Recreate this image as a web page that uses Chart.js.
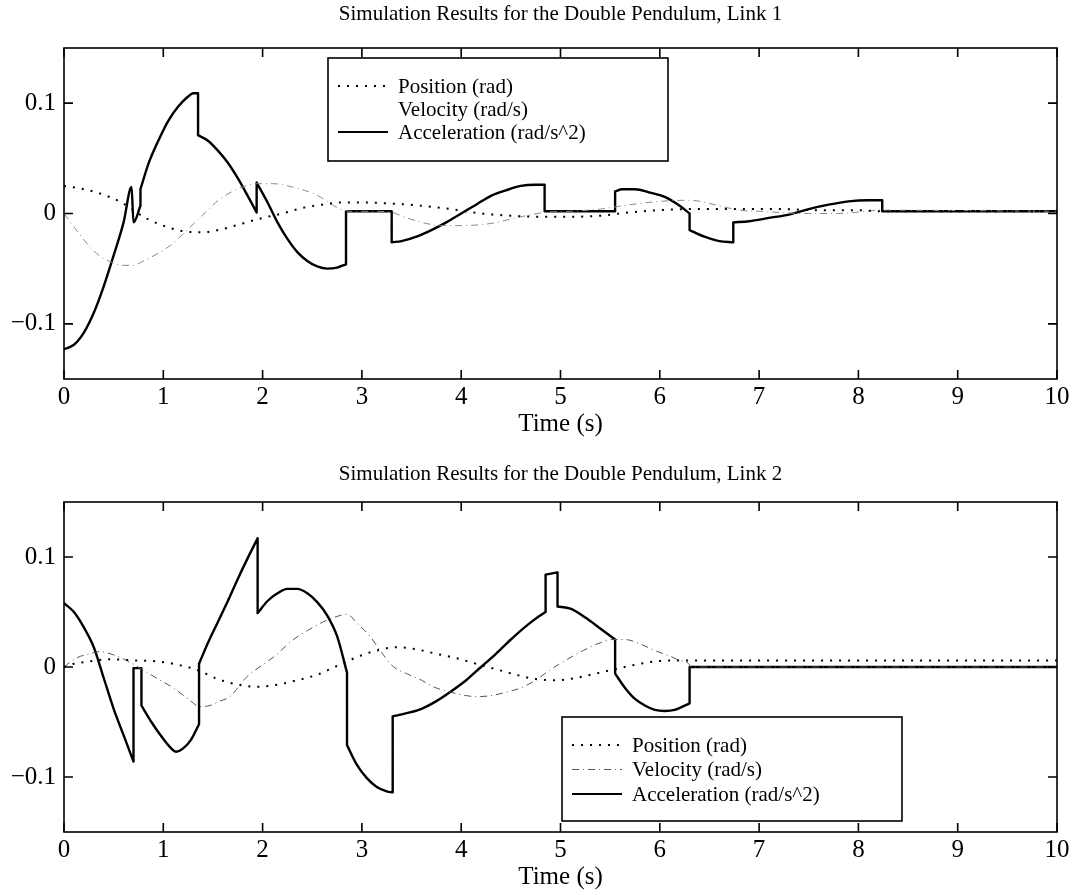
<!DOCTYPE html>
<html>
<head>
<meta charset="utf-8">
<title>Simulation Results for the Double Pendulum</title>
<script src="https://cdn.jsdelivr.net/npm/chart.js@4.4.1/dist/chart.umd.min.js"></script>
<style>
  html, body { margin: 0; padding: 0; background: #fff; }
  #wrap { position: relative; width: 1080px; height: 895px; }
  canvas { position: absolute; left: 0; }
</style>
</head>
<body>
<div id="wrap">
  <canvas id="link1" width="1080" height="448" style="top:0"></canvas>
  <canvas id="link2" width="1080" height="447" style="top:448px"></canvas>
</div>
<script>
// axis ticks
const xTickValues = [0, 1, 2, 3, 4, 5, 6, 7, 8, 9, 10];
const yTickValues = [-0.1, 0, 0.1];
const yTickLabels = ['\u22120.1', '0', '0.1'];
const seriesNames = ['Position (rad)', 'Velocity (rad/s)', 'Acceleration (rad/s^2)'];

// Link 1 - acceleration (a repeated time = a jump)
const link1AccT = [0, 0.1, 0.2, 0.3, 0.4, 0.5, 0.6, 0.68, 0.70, 0.77, 0.77, 0.85, 0.95, 1.05, 1.15, 1.25, 1.30, 1.35,
  1.35, 1.45, 1.55, 1.65, 1.75, 1.85, 1.94, 1.94, 2.05, 2.15, 2.25, 2.35, 2.45, 2.55, 2.65, 2.75, 2.84,
  2.84, 3.30, 3.30, 3.40, 3.55, 3.70, 3.85, 4.00, 4.15, 4.30, 4.45, 4.60, 4.75, 4.84,
  4.84, 5.55, 5.55, 5.62, 5.75, 5.90, 6.05, 6.20, 6.30, 6.30, 6.45, 6.60, 6.74,
  6.74, 6.90, 7.10, 7.30, 7.50, 7.70, 7.90, 8.10, 8.24, 8.24, 10];
const link1AccV = [-0.123, -0.119, -0.108, -0.090, -0.066, -0.038, -0.008, 0.024, -0.008, 0.007, 0.022, 0.045, 0.066, 0.084, 0.097, 0.106, 0.109, 0.109,
  0.071, 0.066, 0.057, 0.046, 0.032, 0.016, 0.001, 0.028, 0.010, -0.008, -0.023, -0.035, -0.043, -0.048, -0.050, -0.049, -0.046,
  0.002, 0.002, -0.026, -0.025, -0.021, -0.015, -0.008, 0.000, 0.008, 0.016, 0.021, 0.025, 0.026, 0.026,
  0.002, 0.002, 0.020, 0.022, 0.022, 0.019, 0.015, 0.007, 0.000, -0.015, -0.021, -0.025, -0.026,
  -0.008, -0.007, -0.004, -0.001, 0.004, 0.008, 0.011, 0.012, 0.012, 0.002, 0.002];

// Link 1 - position
const link1PosT = [0, 0.2, 0.4, 0.6, 0.8, 1.0, 1.2, 1.4, 1.6, 1.8, 2.0, 2.2, 2.4, 2.6, 2.8, 3.0, 3.3, 3.6, 3.9,
  4.2, 4.5, 4.8, 5.1, 5.4, 5.7, 6.0, 6.3, 6.6, 6.9, 7.2, 7.6, 8.0, 8.24, 10];
const link1PosV = [0.025, 0.022, 0.017, 0.009, -0.003, -0.011, -0.016, -0.017, -0.014, -0.009, -0.004, 0.000, 0.005, 0.008, 0.010, 0.010, 0.009, 0.007, 0.004,
  0.000, -0.002, -0.003, -0.003, -0.002, 0.001, 0.003, 0.004, 0.004, 0.004, 0.004, 0.003, 0.003, 0.002, 0.002];

// Link 1 - velocity
const link1VelT = [0, 0.15, 0.3, 0.45, 0.6, 0.7, 0.8, 0.95, 1.07, 1.24, 1.4, 1.57, 1.77, 1.95, 2.11, 2.3, 2.54, 2.78, 2.9, 3.1, 3.3,
  3.45, 3.6, 3.8, 4.0, 4.3, 4.6, 4.84, 5.1, 5.4, 5.7, 6.0, 6.3, 6.6, 6.8, 7.0, 7.5, 7.8, 8.24, 10];
const link1VelV = [0.000, -0.018, -0.034, -0.043, -0.047, -0.047, -0.043, -0.036, -0.029, -0.015, -0.001, 0.013, 0.023, 0.027, 0.027, 0.024, 0.017, 0.004, 0.002, 0.002, 0.001,
  -0.004, -0.008, -0.011, -0.011, -0.009, -0.003, 0.001, 0.002, 0.004, 0.008, 0.011, 0.012, 0.007, 0.003, 0.002, 0.000, 0.000, 0.003, 0.002];

// Link 2 - acceleration
const link2AccT = [0, 0.1, 0.2, 0.3, 0.4, 0.5, 0.6, 0.70, 0.70, 0.78, 0.78, 0.88, 0.98, 1.08, 1.13, 1.20, 1.28, 1.36,
  1.36, 1.45, 1.55, 1.65, 1.75, 1.85, 1.95, 1.95, 2.05, 2.15, 2.25, 2.35, 2.45, 2.55, 2.65, 2.75, 2.85,
  2.85, 2.95, 3.05, 3.15, 3.25, 3.31, 3.31, 3.45, 3.60, 3.75, 3.90, 4.05, 4.20, 4.35, 4.50, 4.65, 4.78, 4.85,
  4.85, 4.97, 4.97, 5.10, 5.25, 5.40, 5.55, 5.55, 5.65, 5.75, 5.85, 5.95, 6.05, 6.15, 6.30, 6.30, 10];
const link2AccV = [0.058, 0.050, 0.036, 0.018, -0.010, -0.038, -0.062, -0.086, -0.001, -0.001, -0.035, -0.050, -0.063, -0.074, -0.077, -0.074, -0.066, -0.052,
  0.003, 0.022, 0.041, 0.060, 0.080, 0.099, 0.117, 0.049, 0.060, 0.067, 0.071, 0.071, 0.067, 0.059, 0.047, 0.028, -0.005,
  -0.071, -0.089, -0.101, -0.109, -0.113, -0.114, -0.045, -0.042, -0.038, -0.031, -0.022, -0.012, 0.000, 0.012, 0.025, 0.037, 0.046, 0.050,
  0.084, 0.086, 0.055, 0.053, 0.045, 0.035, 0.025, -0.006, -0.019, -0.029, -0.035, -0.039, -0.040, -0.039, -0.033, 0.000, 0.000];

// Link 2 - position
const link2PosT = [0, 0.1, 0.25, 0.45, 0.7, 0.95, 1.15, 1.35, 1.55, 1.75, 1.95, 2.15, 2.35, 2.55, 2.75, 2.95, 3.15, 3.35,
  3.55, 3.75, 3.95, 4.15, 4.35, 4.55, 4.75, 4.95, 5.15, 5.35, 5.55, 5.75, 5.95, 6.15, 6.30, 10];
const link2PosV = [0.000, 0.003, 0.005, 0.007, 0.006, 0.005, 0.002, -0.003, -0.011, -0.016, -0.018, -0.016, -0.012, -0.007, 0.001, 0.009, 0.015, 0.018,
  0.016, 0.012, 0.008, 0.003, -0.002, -0.007, -0.011, -0.012, -0.010, -0.006, -0.002, 0.002, 0.005, 0.006, 0.006, 0.006];

// Link 2 - velocity
const link2VelT = [0, 0.12, 0.26, 0.36, 0.5, 0.63, 0.8, 0.95, 1.10, 1.25, 1.37, 1.47, 1.57, 1.67, 1.84, 2.0, 2.11, 2.31, 2.45, 2.61, 2.75, 2.85,
  2.95, 3.08, 3.2, 3.32, 3.45, 3.6, 3.72, 3.9, 4.05, 4.16, 4.3, 4.45, 4.6, 4.75, 4.89, 5.05, 5.23, 5.4, 5.53, 5.65, 5.8, 5.95, 6.07, 6.2, 6.30, 6.31, 10];
const link2VelV = [0.000, 0.008, 0.012, 0.014, 0.011, 0.006, -0.003, -0.011, -0.019, -0.029, -0.036, -0.035, -0.031, -0.027, -0.009, 0.002, 0.009, 0.025, 0.033, 0.041, 0.046, 0.048,
  0.040, 0.028, 0.013, 0.000, -0.006, -0.012, -0.018, -0.023, -0.026, -0.027, -0.026, -0.023, -0.019, -0.012, -0.003, 0.006, 0.015, 0.022, 0.025, 0.025, 0.021, 0.015, 0.011, 0.006, 0.002, 0.000, 0.000];

const TICK = 9;
Chart.defaults.font.family = "'Liberation Serif', 'Times New Roman', serif";
Chart.defaults.color = '#000';

// turn the arrays into points; a repeated time becomes its own straight
// vertical piece so the smooth parts on either side are not bent by it
function pts(t, v) {
  const out = [];
  for (let i = 0; i < t.length; i++) {
    out.push({ x: t[i], y: v[i] });
    if (i + 1 < t.length && t[i + 1] === t[i]) {
      out.push({ x: t[i], y: null });
      out.push({ x: t[i], y: v[i] });
      out.push({ x: t[i], y: v[i + 1] });
      out.push({ x: t[i], y: null });
    }
  }
  return out;
}

// box frame with inward ticks on all four sides
const framePlugin = {
  id: 'frame',
  afterDatasetsDraw(chart) {
    const { ctx, chartArea: a } = chart;
    const x = chart.scales.x, y = chart.scales.y;
    ctx.save();
    ctx.strokeStyle = '#000';
    ctx.lineWidth = 1.6;
    ctx.strokeRect(a.left, a.top, a.right - a.left, a.bottom - a.top);
    ctx.beginPath();
    xTickValues.forEach(v => {
      const px = x.getPixelForValue(v);
      ctx.moveTo(px, a.bottom); ctx.lineTo(px, a.bottom - TICK);
      ctx.moveTo(px, a.top); ctx.lineTo(px, a.top + TICK);
    });
    yTickValues.forEach(v => {
      const py = y.getPixelForValue(v);
      ctx.moveTo(a.left, py); ctx.lineTo(a.left + TICK, py);
      ctx.moveTo(a.right, py); ctx.lineTo(a.right - TICK, py);
    });
    ctx.stroke();
    ctx.restore();
  }
};

// legend box placed inside the plot area
const boxLegendPlugin = {
  id: 'boxLegend',
  afterDraw(chart, args, opts) {
    const { ctx, chartArea: a } = chart;
    const left = a.left + opts.left, top = a.top + opts.top;
    ctx.save();
    ctx.fillStyle = '#fff';
    ctx.fillRect(left, top, opts.width, opts.height);
    ctx.strokeStyle = '#000';
    ctx.lineWidth = 1.6;
    ctx.strokeRect(left, top, opts.width, opts.height);
    ctx.font = "21px 'Liberation Serif', serif";
    ctx.textBaseline = 'middle';
    chart.data.datasets.forEach((ds, i) => {
      const yy = top + opts.firstRow + i * opts.rowGap;
      if (ds.legendSample !== false) {
        ctx.beginPath();
        ctx.strokeStyle = ds.borderColor;
        ctx.lineWidth = Math.min(ds.borderWidth, 2);
        ctx.setLineDash(ds.borderDash || []);
        ctx.moveTo(left + 10, yy);
        ctx.lineTo(left + 60, yy);
        ctx.stroke();
        ctx.setLineDash([]);
      }
      ctx.fillStyle = '#000';
      ctx.fillText(ds.label, left + 70, yy + 1);
    });
    ctx.restore();
  }
};

function makeChart(id, cfg) {
  return new Chart(document.getElementById(id), {
    type: 'line',
    data: {
      datasets: [
        {
          label: seriesNames[0], data: pts(cfg.posT, cfg.posV),
          borderColor: '#000', borderWidth: 2, borderDash: [2, 7], pointRadius: 0,
          cubicInterpolationMode: 'monotone'
        },
        {
          label: seriesNames[1], data: pts(cfg.velT, cfg.velV),
          borderColor: cfg.velColor, borderWidth: 1, borderDash: [7, 4, 1, 4], pointRadius: 0,
          cubicInterpolationMode: 'monotone', legendSample: cfg.velSample
        },
        {
          label: seriesNames[2], data: pts(cfg.accT, cfg.accV),
          borderColor: '#000', borderWidth: 2.4, borderCapStyle: 'round', pointRadius: 0,
          cubicInterpolationMode: 'monotone'
        }
      ]
    },
    options: {
      responsive: false,
      animation: false,
      devicePixelRatio: 1,
      parsing: false,
      spanGaps: false,
      layout: { padding: { left: 0, right: 23, top: 0, bottom: 0 } },
      plugins: {
        legend: { display: false },
        tooltip: { enabled: false },
        title: {
          display: true, text: cfg.title, fullSize: false, color: '#000',
          font: { size: 21, weight: 'normal', lineHeight: 1.2 },
          padding: cfg.titlePad
        },
        boxLegend: cfg.legend
      },
      scales: {
        x: {
          type: 'linear', min: 0, max: 10,
          grid: { display: false, drawTicks: false },
          border: { display: false },
          afterBuildTicks: s => { s.ticks = xTickValues.map(v => ({ value: v })); },
          afterFit: s => { s.height = cfg.xAxisHeight; },
          ticks: { autoSkip: false, maxRotation: 0, padding: 3, font: { size: 25 }, color: '#000' },
          title: {
            display: true, text: 'Time (s)', color: '#000',
            font: { size: 25, weight: 'normal', lineHeight: 1.2 },
            padding: { top: 0, bottom: cfg.xTitleBottom }
          }
        },
        y: {
          type: 'linear', min: -0.15, max: 0.15,
          grid: { display: false, drawTicks: false },
          border: { display: false },
          afterBuildTicks: s => { s.ticks = yTickValues.map(v => ({ value: v })); },
          afterFit: s => { s.width = 64; },
          ticks: {
            padding: 8, font: { size: 25 }, color: '#000',
            callback: v => yTickLabels[yTickValues.indexOf(v)]
          }
        }
      }
    },
    plugins: [framePlugin, boxLegendPlugin]
  });
}

makeChart('link1', {
  title: 'Simulation Results for the Double Pendulum, Link 1',
  titlePad: { top: 1.4, bottom: 21.4 },
  xAxisHeight: 69, xTitleBottom: 9,
  posT: link1PosT, posV: link1PosV,
  velT: link1VelT, velV: link1VelV, velColor: '#8a8a8a', velSample: false,
  accT: link1AccT, accV: link1AccV,
  legend: { left: 264, top: 10, width: 340, height: 103, firstRow: 28, rowGap: 23 }
});

makeChart('link2', {
  title: 'Simulation Results for the Double Pendulum, Link 2',
  titlePad: { top: 13.4, bottom: 15.4 },
  xAxisHeight: 63, xTitleBottom: 3,
  posT: link2PosT, posV: link2PosV,
  velT: link2VelT, velV: link2VelV, velColor: '#555', velSample: true,
  accT: link2AccT, accV: link2AccV,
  legend: { left: 498, top: 215, width: 340, height: 104, firstRow: 28, rowGap: 24.5 }
});
</script>
</body>
</html>
